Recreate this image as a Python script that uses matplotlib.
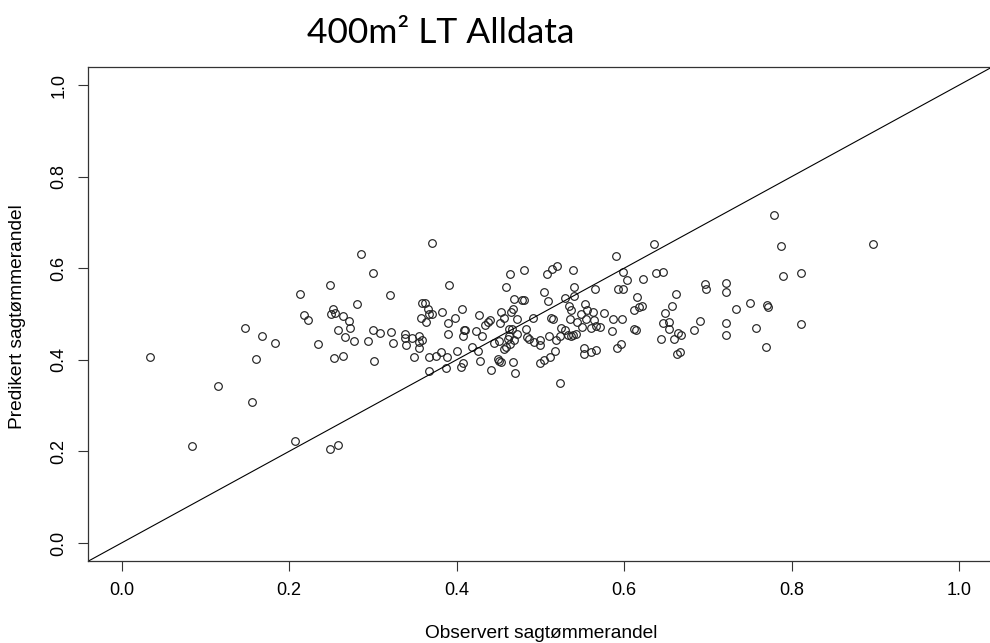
import matplotlib
matplotlib.use("Agg")
import matplotlib.pyplot as plt

obs = [
    0.147, 0.168, 0.034, 0.160, 0.115, 0.156, 0.084, 0.207, 0.183,
    0.371, 0.286, 0.300, 0.249, 0.213, 0.320, 0.281, 0.253, 0.250, 0.255,
    0.218, 0.223, 0.264, 0.272, 0.273, 0.259, 0.267, 0.278, 0.300, 0.308,
    0.322, 0.294, 0.359, 0.362, 0.366, 0.367, 0.371, 0.357, 0.363, 0.383,
    0.391, 0.390, 0.390, 0.339, 0.355, 0.339,
    0.324, 0.340, 0.347, 0.355, 0.359, 0.355, 0.349, 0.234, 0.254, 0.264,
    0.302, 0.367, 0.375, 0.381, 0.389, 0.367, 0.387, 0.249, 0.259,
    0.464, 0.481, 0.508, 0.514, 0.520, 0.539, 0.459, 0.504, 0.540, 0.565,
    0.509, 0.540, 0.530, 0.469, 0.478, 0.480, 0.534, 0.553, 0.467, 0.407,
    0.465, 0.453, 0.536, 0.556, 0.563, 0.427, 0.457, 0.472, 0.491, 0.513,
    0.515, 0.535, 0.549, 0.544, 0.555, 0.564, 0.398, 0.440, 0.438, 0.434,
    0.452, 0.463, 0.466, 0.483, 0.525, 0.529, 0.550, 0.561, 0.567, 0.409,
    0.410, 0.423, 0.430, 0.408, 0.472, 0.543, 0.523, 0.533, 0.537, 0.510,
    0.484,
    0.400, 0.408, 0.405, 0.418, 0.426, 0.428, 0.441, 0.445, 0.451, 0.461,
    0.457, 0.459, 0.464, 0.463, 0.469, 0.449, 0.453, 0.451, 0.467, 0.470,
    0.487, 0.492, 0.499, 0.500, 0.519, 0.539, 0.517, 0.512, 0.504, 0.499,
    0.524, 0.552, 0.552, 0.561, 0.567,
    0.636, 0.590, 0.599, 0.604, 0.638, 0.647, 0.622, 0.593, 0.599, 0.615,
    0.662, 0.697, 0.698, 0.722, 0.722, 0.734, 0.750, 0.612, 0.618, 0.621,
    0.657, 0.649, 0.576, 0.587, 0.598, 0.571, 0.586, 0.612, 0.614, 0.646,
    0.654, 0.653, 0.664, 0.668, 0.683, 0.690, 0.722, 0.722, 0.644,
    0.591, 0.596, 0.659, 0.663, 0.667,
    0.779, 0.787, 0.897, 0.790, 0.811, 0.770, 0.772, 0.757, 0.811, 0.769,
]
pred = [
    0.470, 0.453, 0.406, 0.401, 0.343, 0.308, 0.212, 0.223, 0.437,
    0.655, 0.632, 0.590, 0.563, 0.544, 0.542, 0.521, 0.512, 0.500, 0.503,
    0.498, 0.486, 0.496, 0.484, 0.470, 0.466, 0.450, 0.440, 0.466, 0.458,
    0.460, 0.442, 0.523, 0.523, 0.510, 0.500, 0.500, 0.491, 0.483, 0.504,
    0.563, 0.481, 0.456, 0.456, 0.453, 0.447,
    0.436, 0.432, 0.448, 0.438, 0.443, 0.425, 0.407, 0.435, 0.404, 0.409,
    0.397, 0.407, 0.408, 0.417, 0.407, 0.376, 0.381, 0.205, 0.213,
    0.587, 0.596, 0.587, 0.598, 0.605, 0.596, 0.560, 0.547, 0.558, 0.554,
    0.528, 0.539, 0.535, 0.533, 0.530, 0.531, 0.518, 0.521, 0.512, 0.512,
    0.504, 0.504, 0.508, 0.509, 0.504, 0.497, 0.491, 0.488, 0.491, 0.491,
    0.489, 0.488, 0.500, 0.483, 0.488, 0.487, 0.491, 0.487, 0.483, 0.476,
    0.481, 0.468, 0.467, 0.468, 0.469, 0.465, 0.472, 0.469, 0.474, 0.466,
    0.465, 0.462, 0.452, 0.451, 0.456, 0.456, 0.453, 0.454, 0.453, 0.452,
    0.449,
    0.420, 0.392, 0.384, 0.429, 0.420, 0.397, 0.378, 0.436, 0.440, 0.445,
    0.423, 0.429, 0.435, 0.451, 0.443, 0.401, 0.396, 0.398, 0.395, 0.371,
    0.445, 0.439, 0.433, 0.443, 0.443, 0.455, 0.420, 0.407, 0.400, 0.392,
    0.350, 0.425, 0.413, 0.416, 0.421,
    0.653, 0.627, 0.592, 0.574, 0.590, 0.592, 0.577, 0.554, 0.554, 0.537,
    0.544, 0.566, 0.555, 0.568, 0.549, 0.512, 0.525, 0.509, 0.516, 0.517,
    0.518, 0.502, 0.502, 0.489, 0.489, 0.471, 0.463, 0.467, 0.465, 0.481,
    0.483, 0.468, 0.459, 0.454, 0.465, 0.484, 0.480, 0.455, 0.445,
    0.425, 0.435, 0.446, 0.413, 0.418,
    0.716, 0.648, 0.653, 0.582, 0.589, 0.519, 0.516, 0.469, 0.479, 0.427,
]

ticks = [0.0, 0.2, 0.4, 0.6, 0.8, 1.0]
tick_labels = ["0.0", "0.2", "0.4", "0.6", "0.8", "1.0"]

plt.rcParams["font.family"] = ["Liberation Sans", "DejaVu Sans"]

W, H = 990, 643
fig = plt.figure(figsize=(W / 100, H / 100), dpi=100)
# plot box in pixels: left 88, right ~993 (cut off), top 67, bottom 561
ax = fig.add_axes([88 / W, (H - 561.3) / H, (992.7 - 88) / W, (561.3 - 66.7) / H])

ax.plot(obs, pred, linestyle="none", marker="o", ms=5.5,
        mfc="none", mec="#222222", mew=0.85)
ax.axline((0, 0), slope=1, color="black", lw=0.8)

ax.set_xlim(-0.04, 1.04)
ax.set_ylim(-0.04, 1.04)
ax.set_xticks(ticks)
ax.set_xticklabels(tick_labels)
ax.set_yticks(ticks)
ax.set_yticklabels(tick_labels, rotation=90, va="center")
ax.tick_params(direction="out", length=7, width=0.8, labelsize=13,
               pad=8, color="#333333")
for s in ax.spines.values():
    s.set_linewidth(0.9)
    s.set_color("#333333")

fig.text(541 / W, 1 - 633 / H, "Observert sagtømmerandel",
         ha="center", va="center", fontsize=13.8)
fig.text(18 / W, 1 - 317 / H, "Predikert sagtømmerandel",
         ha="center", va="center", rotation=90, fontsize=13.8)
fig.text(441 / W, 1 - 33 / H, "400m² LT Alldata",
         ha="center", va="center", fontsize=25.5,
         family=["Lato", "DejaVu Sans"])

fig.savefig("out.png", dpi=100)
plt.close(fig)
